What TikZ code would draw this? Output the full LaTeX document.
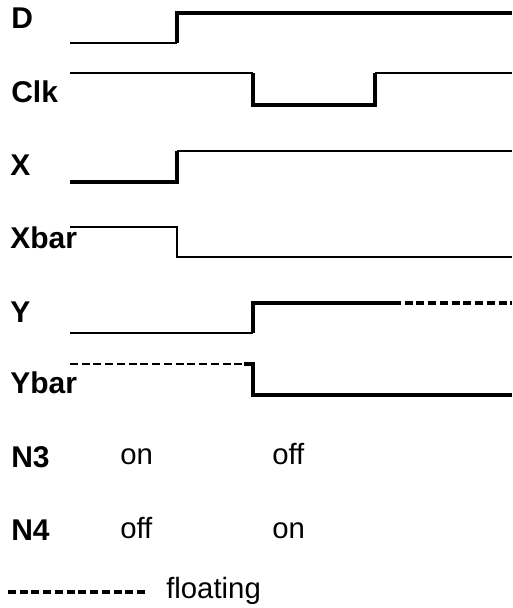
\documentclass[tikz,border=0pt]{standalone}
\usepackage{fontspec}
\setmainfont{Liberation Sans}
\begin{document}
\begin{tikzpicture}[x=0.75pt,y=-0.75pt,
  lbl/.style={anchor=base west,inner sep=0pt,font=\fontsize{22.5}{26}\selectfont\bfseries},
  st/.style={anchor=base west,inner sep=0pt,font=\fontsize{22}{26}\selectfont},
  thin/.style={line width=1.9pt,line join=miter,line cap=butt},
  thk/.style={line width=2.6pt,line join=miter,line cap=butt},
  flt/.style={line width=2.3pt,dash pattern=on 6pt off 2.8pt}]
\useasboundingbox (0,0) rectangle (513,608);
% labels
\node[lbl] (lD) at (11,28) {D};
\node[lbl] (lClk) at (11,102) {Clk};
\node[lbl] (lX) at (10,175) {X};
\node[lbl] (lXb) at (10,248) {Xbar};
\node[lbl] (lY) at (10,322) {Y};
\node[lbl] (lYb) at (10,393) {Ybar};
\node[lbl] (lN3) at (11,467) {N3};
\node[lbl] (lN4) at (11,540) {N4};
\node[st] (n3a) at (120,464) {on};
\node[st] (n3b) at (272,464) {off};
\node[st] (n4a) at (120,538) {off};
\node[st] (n4b) at (272,538) {on};
\node[st] (fl) at (166,598) {floating};
% D
\coordinate (d0) at (70,43); \coordinate (d1) at (177,43);
\coordinate (d2) at (177,13); \coordinate (d3) at (512,13);
\draw[thin] (d0) -- (d1);
\draw[thk] (d1) -- (d2) -- (d3);
% Clk
\coordinate (c0) at (70,73); \coordinate (c1) at (253,73);
\coordinate (c2) at (253,105); \coordinate (c3) at (375,105);
\coordinate (c4) at (375,73); \coordinate (c5) at (512,73);
\draw[thin] (c0) -- (c1);
\draw[thk] (c1) -- (c2) -- (c3) -- (c4);
\draw[thin] (c4) -- (c5);
% X
\coordinate (x0) at (70,182); \coordinate (x1) at (177,182);
\coordinate (x2) at (177,151); \coordinate (x3) at (512,151);
\draw[thk] (x0) -- (x1) -- (x2);
\draw[thin] (x2) -- (x3);
% Xbar
\coordinate (xb0) at (70,227); \coordinate (xb1) at (177,227);
\coordinate (xb2) at (177,257); \coordinate (xb3) at (512,257);
\draw[thin] (xb0) -- (xb1) -- (xb2) -- (xb3);
% Y
\coordinate (y0) at (70,333); \coordinate (y1) at (253,333);
\coordinate (y2) at (253,303); \coordinate (y3) at (393,303);
\coordinate (y4) at (512,303);
\draw[thin] (y0) -- (y1);
\draw[thk] (y1) -- (y2) -- (y3);
\draw[flt] (y3) -- (y4);
% Ybar
\coordinate (yb0) at (70,364); \coordinate (yb1) at (244,364);
\coordinate (yb2) at (253,364); \coordinate (yb3) at (253,395);
\coordinate (yb4) at (512,395);
\draw[flt,line width=1.8pt] (yb0) -- (yb1);
\draw[thk] (yb1) -- (yb2) -- (yb3) -- (yb4);
% legend
\coordinate (f0) at (8,592); \coordinate (f1) at (146,592);
\draw[flt] (f0) -- (f1);
\end{tikzpicture}
\end{document}
